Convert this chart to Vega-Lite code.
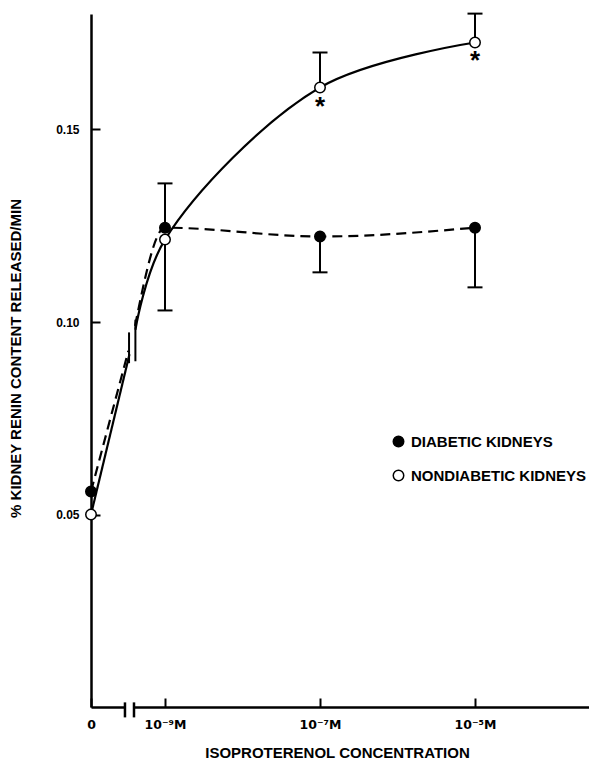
{
  "$schema": "https://vega.github.io/schema/vega-lite/v6.json",
  "width": 498,
  "height": 693,
  "autosize": {"type": "none"},
  "padding": {"left": 91, "top": 14, "right": 0, "bottom": 54},
  "background": "white",
  "config": {"view": {"stroke": null}, "font": "Liberation Sans"},
  "datasets": {
    "gap": [{"x": 0.459, "x2": 0.581, "y": 0}],
    "axbrk": [
      {"x": 0.459, "y": -0.0027, "y2": 0.0012},
      {"x": 0.581, "y": -0.0027, "y2": 0.0012}
    ],
    "dashed": [
      {"seg": "D1", "x": 0, "y": 0.056},
      {"seg": "D1", "x": 0.505, "y": 0.0925},
      {"seg": "D2", "x": 0.595, "y": 0.099},
      {"seg": "D2", "x": 1, "y": 0.1245},
      {"seg": "D2", "x": 3, "y": 0.1222},
      {"seg": "D2", "x": 5, "y": 0.1245}
    ],
    "solid": [
      {"seg": "N1", "x": 0, "y": 0.05},
      {"seg": "N1", "x": 0.52, "y": 0.0916},
      {"seg": "N2", "x": 0.6, "y": 0.098},
      {"seg": "N2", "x": 1, "y": 0.1214},
      {"seg": "N2", "x": 3, "y": 0.1609},
      {"seg": "N2", "x": 5, "y": 0.1726}
    ],
    "lbrk": [
      {"x": 0.514, "y": 0.0893, "y2": 0.0973},
      {"x": 0.6, "y": 0.0898, "y2": 0.1006}
    ],
    "err": [
      {"x": 1, "y": 0.1245, "end": 0.136},
      {"x": 1, "y": 0.1214, "end": 0.103},
      {"x": 3, "y": 0.1609, "end": 0.17},
      {"x": 3, "y": 0.1222, "end": 0.1129},
      {"x": 5, "y": 0.1726, "end": 0.1801},
      {"x": 5, "y": 0.1245, "end": 0.109}
    ],
    "points": [
      {"group": "DIABETIC KIDNEYS", "x": 0, "y": 0.056, "star": ""},
      {"group": "DIABETIC KIDNEYS", "x": 1, "y": 0.1245, "star": ""},
      {"group": "DIABETIC KIDNEYS", "x": 3, "y": 0.1222, "star": ""},
      {"group": "DIABETIC KIDNEYS", "x": 5, "y": 0.1245, "star": ""},
      {"group": "NONDIABETIC KIDNEYS", "x": 0, "y": 0.05, "star": ""},
      {"group": "NONDIABETIC KIDNEYS", "x": 1, "y": 0.1214, "star": ""},
      {"group": "NONDIABETIC KIDNEYS", "x": 3, "y": 0.1609, "star": "*"},
      {"group": "NONDIABETIC KIDNEYS", "x": 5, "y": 0.1726, "star": "*"}
    ]
  },
  "encoding": {
    "x": {
      "field": "x",
      "type": "quantitative",
      "scale": {"domain": [0, 1, 5, 6.47], "range": [0, 74, 384, 498], "zero": false, "nice": false},
      "axis": {
        "values": [0, 1, 3, 5],
        "labelExpr": "datum.value == 0 ? '0' : datum.value == 1 ? '10⁻⁹M' : datum.value == 3 ? '10⁻⁷M' : '10⁻⁵M'",
        "labelFlush": false,
        "labelFont": "DejaVu Sans",
        "labelFontWeight": "bold",
        "labelFontSize": 12.5,
        "labelColor": "black",
        "labelPadding": 20,
        "tickSize": -9,
        "tickWidth": 2,
        "tickColor": "black",
        "domainColor": "black",
        "domainWidth": 2.5,
        "grid": false,
        "title": "ISOPROTERENOL CONCENTRATION",
        "titleFont": "Liberation Sans",
        "titleFontWeight": "bold",
        "titleFontSize": 15,
        "titleColor": "black",
        "titleX": 246,
        "titleY": 50,
        "titleBaseline": "alphabetic",
        "titleAlign": "center"
      }
    },
    "y": {
      "field": "y",
      "type": "quantitative",
      "scale": {"domain": [0, 0.18], "zero": false, "nice": false},
      "axis": {
        "values": [0.05, 0.1, 0.15],
        "format": ".2f",
        "labelFont": "Liberation Sans",
        "labelFontWeight": "bold",
        "labelFontSize": 12,
        "labelColor": "black",
        "labelPadding": 21,
        "tickSize": -9,
        "tickWidth": 2,
        "tickColor": "black",
        "domainColor": "black",
        "domainWidth": 2.5,
        "grid": false,
        "title": "% KIDNEY RENIN CONTENT RELEASED/MIN",
        "titleFont": "Liberation Sans",
        "titleFontWeight": "bold",
        "titleFontSize": 15,
        "titleColor": "black",
        "titleAngle": 270,
        "titleX": -75.5,
        "titleY": 344,
        "titleBaseline": "middle",
        "titleAlign": "center"
      }
    }
  },
  "layer": [
    {
      "data": {"name": "gap"},
      "mark": {"type": "rule", "color": "white", "strokeWidth": 6},
      "encoding": {"x2": {"field": "x2"}}
    },
    {
      "data": {"name": "axbrk"},
      "mark": {"type": "rule", "color": "black", "strokeWidth": 2.5},
      "encoding": {"y2": {"field": "y2"}}
    },
    {
      "data": {"name": "dashed"},
      "mark": {"type": "line", "interpolate": "monotone", "color": "black", "strokeWidth": 2.2, "strokeDash": [10, 6]},
      "encoding": {"detail": {"field": "seg"}}
    },
    {
      "data": {"name": "solid"},
      "mark": {"type": "line", "interpolate": "catmull-rom", "color": "black", "strokeWidth": 2.2},
      "encoding": {"detail": {"field": "seg"}}
    },
    {
      "data": {"name": "lbrk"},
      "mark": {"type": "rule", "color": "black", "strokeWidth": 2},
      "encoding": {"y2": {"field": "y2"}}
    },
    {
      "data": {"name": "err"},
      "mark": {"type": "rule", "color": "black", "strokeWidth": 2},
      "encoding": {"y2": {"field": "end"}}
    },
    {
      "data": {"name": "err"},
      "mark": {"type": "tick", "orient": "horizontal", "color": "black", "size": 15, "thickness": 2, "opacity": 1},
      "encoding": {"y": {"field": "end", "type": "quantitative"}}
    },
    {
      "data": {"name": "points"},
      "mark": {"type": "point", "shape": "circle", "filled": true, "stroke": "black", "strokeWidth": 1.5, "size": 110, "opacity": 1},
      "encoding": {
        "fill": {
          "field": "group",
          "type": "nominal",
          "scale": {"domain": ["DIABETIC KIDNEYS", "NONDIABETIC KIDNEYS"], "range": ["black", "white"]},
          "legend": {
            "orient": "none",
            "legendX": 300,
            "legendY": 420,
            "title": null,
            "padding": 0,
            "rowPadding": 17,
            "symbolType": "circle",
            "symbolSize": 110,
            "symbolStrokeColor": "black",
            "symbolStrokeWidth": 1.5,
            "labelFont": "Liberation Sans",
            "labelFontWeight": "bold",
            "labelFontSize": 15,
            "labelColor": "black",
            "labelOffset": 5,
            "labelLimit": 300
          }
        }
      }
    },
    {
      "data": {"name": "points"},
      "mark": {"type": "text", "font": "Liberation Sans", "fontWeight": "bold", "fontSize": 26, "baseline": "alphabetic", "dy": 27, "color": "black"},
      "encoding": {"text": {"field": "star"}}
    }
  ]
}
